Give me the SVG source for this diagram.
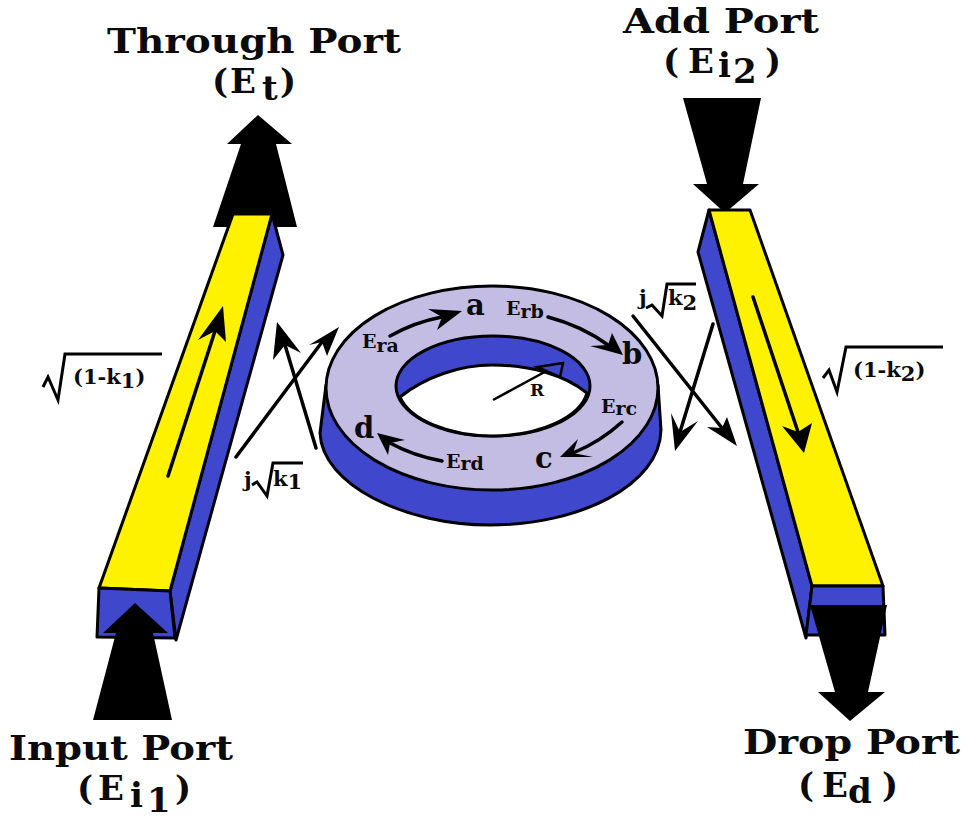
<svg xmlns="http://www.w3.org/2000/svg" width="967" height="822" viewBox="0 0 967 822">
<style>
text{font-family:"DejaVu Serif","Liberation Serif",serif;font-weight:bold;fill:#0b0b0b}
.port{font-size:34px}
.sub{font-size:21px}
.ring{font-size:19px}
.pt{font-size:29px}
.k{stroke:#000;stroke-width:3;fill:none}
.ol{stroke:#000;stroke-width:3;stroke-linejoin:round}
.yl{fill:#fff200}
.bl{fill:#3f48cc}
.ar{stroke:#000;stroke-width:3.5;fill:none;stroke-linecap:round}
.hd{fill:#000}
</style>
<rect width="967" height="822" fill="#fff"/>
<g id="through-arrow"><path class="hd" d="M258 115L292 144H276L297 227H213L241 144H227Z"/></g>
<g id="add-arrow"><path class="hd" d="M683 98H761L743 184H759L725 213L693 184H707Z"/></g>
<g id="input-bar">
<path class="bl ol" d="M272 214L283 255L176 640L170 591Z"/>
<path class="yl ol" d="M233 214H272L170 591L99 588Z"/>
<path class="bl ol" d="M99 588L170 591L175 638L97 637Z"/>
</g>
<g id="input-arrow"><path class="hd" d="M135 603L168 633H153L172 720H93L116 633H103Z"/></g>
<g id="add-bar">
<path class="bl ol" d="M709 210L698 252L806 638L812 586Z"/>
<path class="yl ol" d="M709 210H750L883 586H812Z"/>
<path class="bl ol" d="M812 586H883L885 635H806Z"/>
</g>
<g id="drop-arrow"><path class="hd" d="M810 605H887L868 692H885L850 721L818 692H835Z"/></g>
<g id="ring">
<path class="bl ol" d="M326 385L320 433C322 485 405 525 490 525C580 525 660 485 661 430L658 385Z"/>
<ellipse cx="492" cy="388" rx="166" ry="102" fill="#c3bde3" class="ol"/>
<ellipse cx="493" cy="386" rx="97" ry="50" class="bl ol"/>
<path d="M400 397C425 377 460 365 492 365C530 365 565 375 587 393A97 50 0 0 1 493 436A97 50 0 0 1 400 397Z" fill="#fff" class="ol"/>
</g>
<g id="connectors">
<path class="ar" d="M168 476L215 331"/>
<path class="hd" d="M223 306L226 342L215 331L198 340Z"/>
<path class="ar" d="M753 297L798 432"/>
<path class="hd" d="M804 453L782 426L798 432L812 423Z"/>
<path class="ar" d="M236 457L322 342"/>
<path class="hd" d="M339 327L327 356L322 342L309 345Z"/>
<path class="ar" d="M316 448L285 345"/>
<path class="hd" d="M277 322L301 353L285 345L273 360Z"/>
<path class="ar" d="M633 316L722 428"/>
<path class="hd" d="M737 446L707 427L722 428L727 417Z"/>
<path class="ar" d="M713 324L680 432"/>
<path class="hd" d="M675 451L671 413L680 432L698 421Z"/>
<g id="ring-arrows">
<path class="ar" d="M390 336Q415 322 442 317"/><path class="hd" d="M462 311L437 330L442 317L428 309Z"/>
<path class="ar" d="M548 317Q582 326 608 345"/><path class="hd" d="M623 355L590 346L608 345L612 333Z"/>
<path class="ar" d="M622 422Q600 442 573 453"/><path class="hd" d="M560 457L578 439L573 453L593 457Z"/>
<path class="ar" d="M442 461Q414 456 390 443"/><path class="hd" d="M377 433L405 440L390 443L388 455Z"/>
<path stroke="#000" stroke-width="2.5" fill="none" d="M493 400L552 368"/><path d="M563 363L537 367L560 377Z" fill="#3f48cc" stroke="#000" stroke-width="2.5"/>
</g>
</g>
<g id="through-label"><text class="port" x="107" y="53" textLength="294" lengthAdjust="spacingAndGlyphs">Through Port</text><text class="port" y="93"><tspan x="212">(</tspan><tspan x="230">E</tspan><tspan x="262" y="100">t</tspan><tspan x="280" y="93">)</tspan></text></g>
<g id="add-label"><text class="port" x="623" y="33" textLength="196" lengthAdjust="spacingAndGlyphs">Add Port</text><text class="port" y="73"><tspan x="663">(</tspan><tspan x="688">E</tspan><tspan x="718" y="77">i</tspan><tspan x="733" y="83">2</tspan><tspan x="765" y="73">)</tspan></text></g>
<g id="input-label"><text class="port" x="9" y="760" textLength="224" lengthAdjust="spacingAndGlyphs">Input Port</text><text class="port" y="800"><tspan x="77">(</tspan><tspan x="98">E</tspan><tspan x="130" y="807">i</tspan><tspan x="147" y="812">1</tspan><tspan x="175" y="800">)</tspan></text></g>
<g id="drop-label"><text class="port" x="743" y="754" textLength="217" lengthAdjust="spacingAndGlyphs">Drop Port</text><text class="port" y="797"><tspan x="798">(</tspan><tspan x="822">E</tspan><tspan x="848" y="803">d</tspan><tspan x="882" y="797">)</tspan></text></g>
<g id="coupling-labels">
<path class="k" d="M43 387L48 377L58 400L65 354H162"/><text class="sub" x="73" y="384">(1-k<tspan dy="4">1</tspan><tspan dy="-4">)</tspan></text>
<path class="k" d="M252 485L257 482L267 496L273 463H303"/><text class="sub" x="244" y="487">j</text><text class="sub" x="273" y="486">k<tspan dy="3">1</tspan></text>
<path class="k" d="M823 378L829 370L837 392L846 347H943"/><text class="sub" x="853" y="377">(1-k<tspan dy="4">2</tspan><tspan dy="-4">)</tspan></text>
<path class="k" d="M646 308L652 305L662 316L667 284H696"/><text class="sub" x="639" y="305">j</text><text class="sub" x="668" y="305">k<tspan dy="5">2</tspan></text>
</g>
<g id="ring-labels">
<text class="pt" x="466" y="315">a</text><text class="pt" x="622" y="364">b</text><text class="pt" x="535" y="468">c</text><text class="pt" x="354" y="438">d</text>
<text class="ring" x="362" y="348">E<tspan dy="4">ra</tspan></text>
<text class="ring" x="506" y="315">E<tspan dy="3">rb</tspan></text>
<text class="ring" x="601" y="413">E<tspan dy="2">rc</tspan></text>
<text class="ring" x="446" y="468">E<tspan dy="2">rd</tspan></text>
<text class="ring" x="530" y="396" style="font-size:17px">R</text>
</g>
</svg>
